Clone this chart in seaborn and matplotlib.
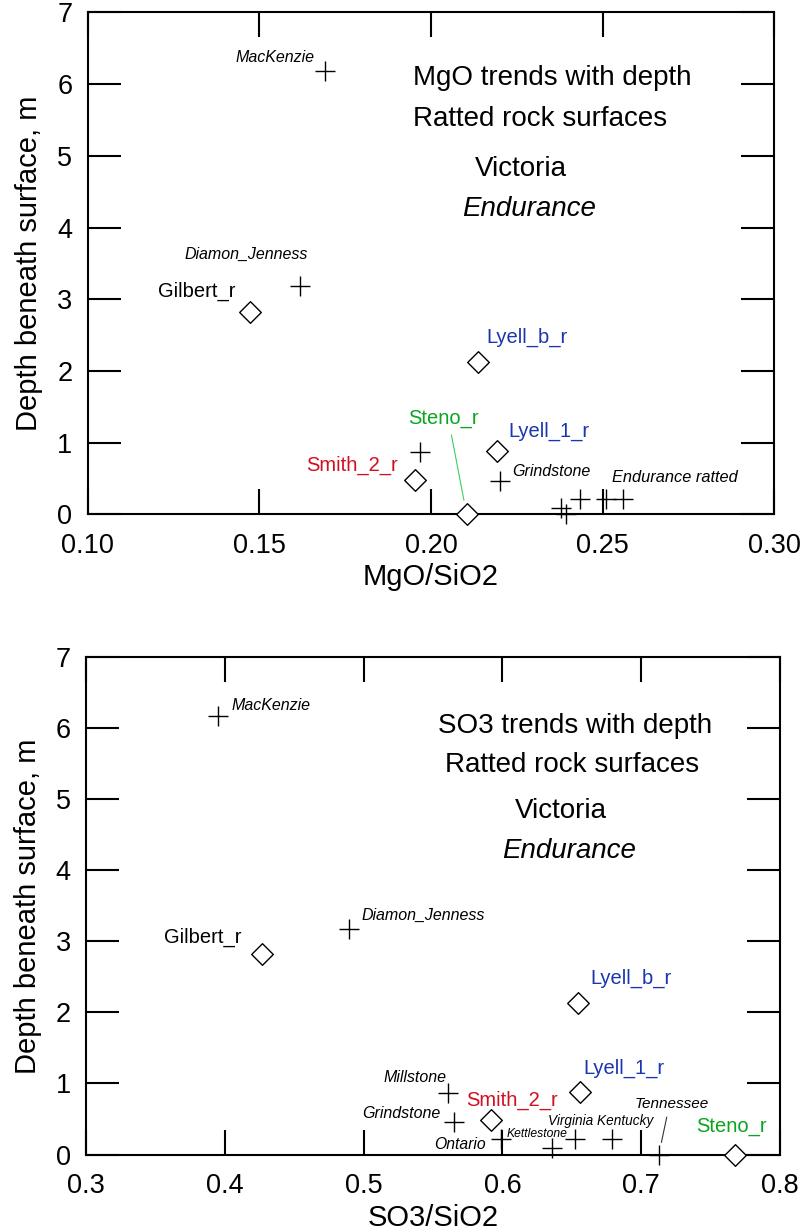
import seaborn as sns
import matplotlib.pyplot as plt

# rock surfaces (+) and ratted surfaces (diamonds), Victoria crater
rock_names = ["MacKenzie", "Diamon_Jenness", "Millstone", "Grindstone", "Ontario",
              "Kettlestone", "Virginia", "Kentucky", "Tennessee"]
rock_depth = [6.18, 3.18, 0.87, 0.46, 0.22, 0.09, 0.22, 0.22, 0.0]
rock_mgo = [0.1691, 0.1618, 0.1968, 0.2201, 0.2434, 0.2380, 0.2511, 0.2560, 0.2393]
rock_so3 = [0.3952, 0.4896, 0.5608, 0.5652, 0.5988, 0.6357, 0.6520, 0.6790, 0.7127]

rat_names = ["Gilbert_r", "Lyell_b_r", "Lyell_1_r", "Smith_2_r", "Steno_r"]
rat_depth = [2.82, 2.13, 0.88, 0.48, 0.0]
rat_mgo = [0.1473, 0.2136, 0.2191, 0.1953, 0.2104]
rat_so3 = [0.4269, 0.6544, 0.6562, 0.5916, 0.7677]

mgo_ticks = [0.10, 0.15, 0.20, 0.25, 0.30]
so3_ticks = [0.3, 0.4, 0.5, 0.6, 0.7, 0.8]
depth_ticks = [0, 1, 2, 3, 4, 5, 6, 7]

mgo_title = ["MgO trends with depth", "Ratted rock surfaces", "Victoria", "Endurance"]
so3_title = ["SO3 trends with depth", "Ratted rock surfaces", "Victoria", "Endurance"]

colors = {"k": "black", "b": "#1a35b0", "r": "#d01020", "g": "#0aa51e"}

# label layout: (point, text, dx px, dy px, ha, kind, size, leader)
mgo_labels = [
    ("MacKenzie", "MacKenzie", -10, 9, "right", "i", 11.5, None),
    ("Diamon_Jenness", "Diamon_Jenness", -54, 27, "center", "i", 11.5, None),
    ("Gilbert_r", "Gilbert_r", -15, 15, "right", "k", 14.5, None),
    ("Lyell_b_r", "Lyell_b_r", 9, 19, "left", "b", 14.5, None),
    ("Steno_r", "Steno_r", -23, 91, "center", "g", 14.5, (0.59, 3, 10.4, "#3ccf5c")),
    ("Lyell_1_r", "Lyell_1_r", 12, 15, "left", "b", 14.5, None),
    ("Smith_2_r", "Smith_2_r", -17, 9, "right", "r", 14.5, None),
    ("Grindstone", "Grindstone", 12, 5, "left", "i", 11.5, None),
    ("Kentucky", "Endurance ratted", -11, 17, "left", "i", 11.8, None),
]
so3_labels = [
    ("MacKenzie", "MacKenzie", 13, 6, "left", "i", 11.5, None),
    ("Diamon_Jenness", "Diamon_Jenness", 12, 9, "left", "i", 11.5, None),
    ("Gilbert_r", "Gilbert_r", -21, 11, "right", "k", 14.5, None),
    ("Lyell_b_r", "Lyell_b_r", 12, 19, "left", "b", 14.5, None),
    ("Millstone", "Millstone", -2, 11, "right", "i", 11.5, None),
    ("Smith_2_r", "Smith_2_r", -25, 15, "left", "r", 14.5, None),
    ("Lyell_1_r", "Lyell_1_r", 3, 18, "left", "b", 14.5, None),
    ("Grindstone", "Grindstone", -14, 4, "right", "i", 11.5, None),
    ("Ontario", "Ontario", -15, -10, "right", "i", 11.3, None),
    ("Kettlestone", "Kettlestone", -15, 11, "center", "i", 8.7, None),
    ("Virginia", "Virginia Kentucky", -27, 14, "left", "i", 9.8, None),
    ("Tennessee", "Tennessee", 13, 47, "center", "i", 11, (0.45, 2.5, 8.9, "#333333")),
    ("Steno_r", "Steno_r", -4, 23, "center", "g", 14.5, None),
]

sns.set_theme(style="ticks")
plt.rcParams["font.family"] = ["Liberation Sans", "DejaVu Sans"]
plt.rcParams["axes.linewidth"] = 1.5
plt.rcParams["text.color"] = "black"
plt.rcParams["axes.labelcolor"] = "black"
plt.rcParams["xtick.color"] = "black"
plt.rcParams["ytick.color"] = "black"
plt.rcParams["xtick.labelcolor"] = "black"
plt.rcParams["ytick.labelcolor"] = "black"


def draw_panel(ax, xs_rock, xs_rat, labels, xlabel, xlim, xticks, title, tpos, lpad):
    sns.scatterplot(x=xs_rock, y=rock_depth, marker="+", s=225, color="black",
                    linewidth=1.0, ax=ax, clip_on=False, zorder=3)
    sns.scatterplot(x=xs_rat, y=rat_depth, marker="D", s=121, color="white",
                    edgecolor="black", linewidth=1.0, ax=ax, clip_on=False, zorder=3)
    pts = dict(zip(rock_names, zip(xs_rock, rock_depth)))
    pts.update(zip(rat_names, zip(xs_rat, rat_depth)))
    for key, txt, dx, dy, ha, kind, size, leader in labels:
        style = "italic" if kind == "i" else "normal"
        col = "black" if kind == "i" else colors[kind]
        kw = {}
        if leader is not None:
            rx, sa, sb, lc = leader
            kw["arrowprops"] = dict(arrowstyle="-", color=lc, lw=0.8, shrinkA=sa,
                                    shrinkB=sb, relpos=(rx, 0))
        ax.annotate(txt, xy=pts[key], xytext=(dx, dy), textcoords="offset pixels",
                    ha=ha, va="baseline", fontsize=size, fontstyle=style,
                    color=col, **kw)
    for line, (tx, ty) in zip(title, tpos):
        ax.text(tx, ty, line, transform=ax.transAxes, ha="left", va="baseline",
                fontsize=20, color="black",
                fontstyle="italic" if line == "Endurance" else "normal")
    ax.set_xlim(*xlim)
    ax.set_ylim(0, 7)
    ax.set_xticks(xticks)
    ax.set_yticks(depth_ticks)
    ax.tick_params(axis="both", which="major", direction="in", top=True, right=True,
                   width=1.5, labelsize=19.5, color="black", labelcolor="black")
    ax.tick_params(axis="x", length=18, pad=13.2)
    ax.tick_params(axis="y", length=24, pad=11)
    ax.set_xlabel(xlabel, fontsize=21, labelpad=lpad, color="black")
    ax.set_ylabel("Depth beneath surface, m", fontsize=21, labelpad=10, color="black")
    for sp in ax.spines.values():
        sp.set_color("black")
        sp.set_linewidth(1.5)


fig = plt.figure(figsize=(8.03, 12.32), dpi=100)
ax1 = fig.add_axes([0.1092, 0.5824, 0.8550, 0.4076])
ax2 = fig.add_axes([0.1071, 0.0629, 0.8643, 0.4036])

draw_panel(ax1, rock_mgo, rat_mgo, mgo_labels, "MgO/SiO2", (0.10, 0.30), mgo_ticks,
           mgo_title, [(0.474, 0.856), (0.474, 0.773), (0.564, 0.675), (0.545, 0.594)], 3)
draw_panel(ax2, rock_so3, rat_so3, so3_labels, "SO3/SiO2", (0.3, 0.8), so3_ticks,
           so3_title, [(0.507, 0.847), (0.517, 0.770), (0.618, 0.676), (0.599, 0.596)], 3.5)

fig.savefig("out.png", dpi=100)
